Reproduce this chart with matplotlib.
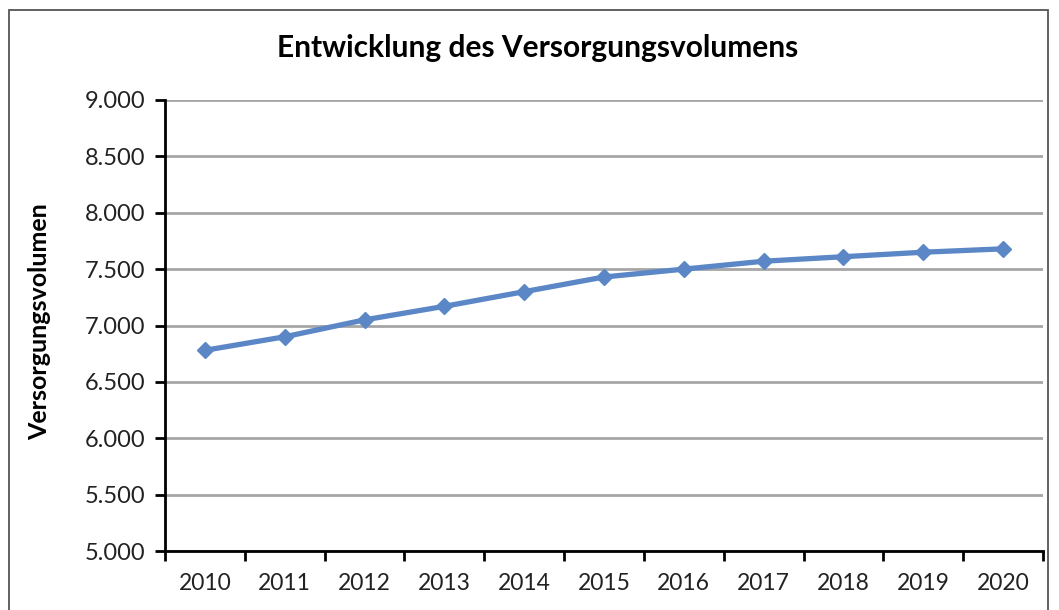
import numpy as np
import matplotlib.pyplot as plt
from matplotlib.patches import Rectangle
from matplotlib.ticker import FuncFormatter

years = ["2010", "2011", "2012", "2013", "2014", "2015",
         "2016", "2017", "2018", "2019", "2020"]
volumen = [6780, 6900, 7050, 7170, 7300, 7430, 7500, 7570, 7610, 7650, 7680]
y_ticks = [5000, 5500, 6000, 6500, 7000, 7500, 8000, 8500, 9000]

LINE_COLOR = "#5B87C6"
GRID_COLOR = "#A6A6A6"

plt.rcParams["font.family"] = ["Lato", "DejaVu Sans"]

fig = plt.figure(figsize=(10.59, 6.10), dpi=100)
ax = fig.add_axes([165 / 1059, 1 - 551 / 610, (1043 - 165) / 1059, (551 - 100) / 610])

x = np.arange(len(years))
ax.plot(x, volumen, color=LINE_COLOR, linewidth=3.8, marker="D",
        markersize=8, markerfacecolor=LINE_COLOR, markeredgecolor=LINE_COLOR,
        zorder=3)

ax.set_xlim(-0.5, len(years) - 0.5)
ax.set_ylim(y_ticks[0], y_ticks[-1])
ax.set_yticks(y_ticks)
ax.yaxis.set_major_formatter(FuncFormatter(lambda v, p: f"{int(v):,}".replace(",", ".")))

ax.set_xticks(x)
ax.set_xticklabels(years)
ax.set_xticks(np.arange(-0.5, len(years), 1.0), minor=True)
ax.tick_params(axis="x", which="major", length=0, pad=16, labelsize=16.5, colors="#222222")
ax.tick_params(axis="x", which="minor", length=7, width=2, color="black")
ax.tick_params(axis="y", length=7, width=2, pad=7, labelsize=17, labelcolor="#222222")

ax.grid(axis="y", color=GRID_COLOR, linewidth=2)
ax.set_axisbelow(True)
for side in ["top", "right"]:
    ax.spines[side].set_visible(False)
for side in ["left", "bottom"]:
    ax.spines[side].set_linewidth(2)
    ax.spines[side].set_zorder(4)

fig.text(538 / 1059, 1 - 48 / 610, "Entwicklung des Versorgungsvolumens",
         ha="center", va="center", fontsize=21.5, fontweight="bold")
fig.text(40 / 1059, 1 - 322 / 610, "Versorgungsvolumen", rotation=90,
         ha="center", va="center", fontsize=18, fontweight="bold")

# outer chart border
fig.patches.append(Rectangle((9 / 1059, -0.05), 1039 / 1059, 1.05 - 10 / 610,
                             transform=fig.transFigure, fill=False,
                             edgecolor="#555555", linewidth=1.3))

fig.savefig("out.png", dpi=100)
